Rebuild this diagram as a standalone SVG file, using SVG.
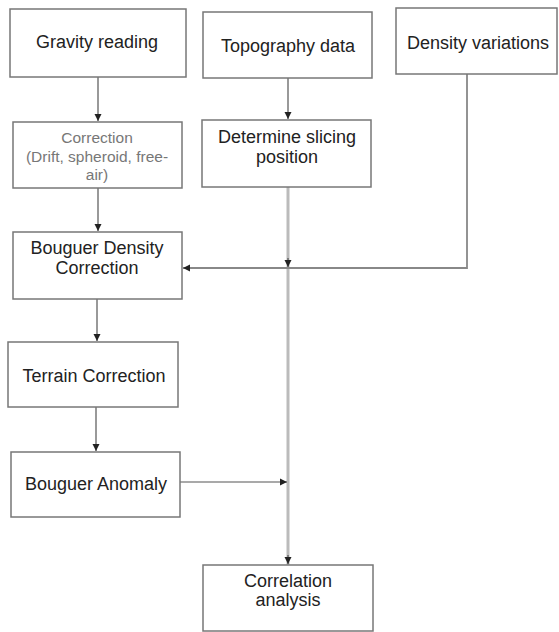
<svg xmlns="http://www.w3.org/2000/svg" width="559" height="632" viewBox="0 0 559 632">
<style>
.box{fill:#fff;stroke:#777;stroke-width:1.5}
.t{font-family:"Liberation Sans",Arial,sans-serif;font-size:18px;fill:#222;text-anchor:middle;dominant-baseline:central}
.s{font-family:"Liberation Sans",Arial,sans-serif;font-size:15.5px;fill:#777;text-anchor:middle;dominant-baseline:central}
.c{fill:none;stroke:#555;stroke-width:1.2}
.g{fill:none;stroke:#bbb;stroke-width:3}
.h{fill:none;stroke:#888;stroke-width:1.8}
</style>
<defs>
<marker id="a" markerWidth="8" markerHeight="8" refX="7" refY="4" orient="auto" markerUnits="userSpaceOnUse">
<path d="M0,0.5 L7,4 L0,7.5 Z" fill="#222"/>
</marker>
</defs>
<rect width="559" height="632" fill="#fff"/>
<g id="connectors">
<line class="c" x1="98" y1="77" x2="98" y2="121" marker-end="url(#a)"/>
<line class="c" x1="288" y1="78" x2="288" y2="119" marker-end="url(#a)"/>
<line class="c" x1="98" y1="188" x2="98" y2="231" marker-end="url(#a)"/>
<line class="g" x1="288" y1="187" x2="288" y2="565"/>
<polyline class="h" points="467,74 467,268 183,268" marker-end="url(#a)"/>
<line class="c" x1="288" y1="258" x2="288" y2="267" marker-end="url(#a)"/>
<line class="c" x1="97" y1="299" x2="97" y2="341" marker-end="url(#a)"/>
<line class="c" x1="96" y1="407" x2="96" y2="451" marker-end="url(#a)"/>
<line class="c" x1="180" y1="482" x2="287" y2="482" marker-end="url(#a)"/>
<line class="c" x1="288" y1="555" x2="288" y2="564" marker-end="url(#a)"/>
</g>
<g id="gravity"><rect class="box" x="10" y="9" width="176" height="68"/><text class="t" x="97" y="42">Gravity reading</text></g>
<g id="topography"><rect class="box" x="203" y="12" width="169" height="66"/><text class="t" x="288" y="46">Topography data</text></g>
<g id="density"><rect class="box" x="396" y="8" width="161" height="66"/><text class="t" x="478" y="43">Density variations</text></g>
<g id="correction"><rect class="box" x="13" y="122" width="169" height="66"/><text class="s" x="97" y="137">Correction</text><text class="s" x="97" y="156">(Drift, spheroid, free-</text><text class="s" x="97" y="174">air)</text></g>
<g id="slicing"><rect class="box" x="202" y="120" width="169" height="67"/><text class="t" x="287" y="137">Determine slicing</text><text class="t" x="287" y="157">position</text></g>
<g id="bouguer-density"><rect class="box" x="13" y="232" width="169" height="67"/><text class="t" x="97" y="248">Bouguer Density</text><text class="t" x="97" y="268">Correction</text></g>
<g id="terrain"><rect class="box" x="8" y="342" width="170" height="65"/><text class="t" x="94" y="376">Terrain Correction</text></g>
<g id="anomaly"><rect class="box" x="11" y="452" width="169" height="65"/><text class="t" x="96" y="484">Bouguer Anomaly</text></g>
<g id="correlation"><rect class="box" x="203" y="565" width="170" height="66"/><text class="t" x="288" y="581">Correlation</text><text class="t" x="288" y="600">analysis</text></g>
</svg>
